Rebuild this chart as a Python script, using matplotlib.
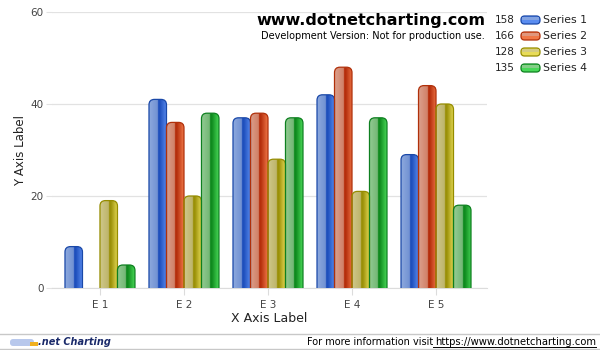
import numpy as np
import matplotlib
matplotlib.use("Agg")
import matplotlib.pyplot as plt
from matplotlib.patches import FancyBboxPatch
from matplotlib.colors import to_rgb
from matplotlib.lines import Line2D

categories = ["E 1", "E 2", "E 3", "E 4", "E 5"]
series_names = ["Series 1", "Series 2", "Series 3", "Series 4"]
s1 = [9, 41, 37, 42, 29]
s2 = [0, 36, 38, 48, 44]
s3 = [19, 20, 28, 21, 40]
s4 = [5, 38, 37, 37, 18]
series_values = [s1, s2, s3, s4]
y_ticks = [0, 20, 40, 60]

# colour stops per series: edge, light, light2, dark, bright
palette = [
    ("#1a48a8", "#8eaade", "#7090d2", "#1e4fbc", "#5a8cf0"),
    ("#b0300a", "#dca08c", "#d07f66", "#b52e0c", "#f07848"),
    ("#958c00", "#cfc88c", "#bdb46a", "#9a9008", "#e8dc58"),
    ("#0e8020", "#94cc94", "#72b674", "#0f8a1e", "#48d858"),
]

def gradient(light1, light2, dark, bright, n=60):
    c_l1, c_l2, c_d, c_b = [np.array(to_rgb(c)) for c in (light1, light2, dark, bright)]
    row = []
    for i in range(n):
        t = (i + 0.5) / n
        if t < 0.5:
            f = t / 0.5
            c = c_l1 * (1 - f) + c_l2 * f
        elif t < 0.6:
            c = c_d
        else:
            f = (t - 0.6) / 0.4
            c = c_d * (1 - f) + c_b * f
        row.append(c)
    return np.array([row])

fig = plt.figure(figsize=(6, 3.5), dpi=100)
ax = fig.add_axes([52 / 600, 1 - 288 / 350, 435 / 600, 276 / 350])

xlim = (-0.571, 4.607)
ylim = (0, 60)
px_per_x = 435 / (xlim[1] - xlim[0])
px_per_y = 276 / (ylim[1] - ylim[0])
aspect = px_per_x / px_per_y

group_w = 0.833
bar_w = group_w / len(series_values)
x = np.arange(len(categories))

for si, vals in enumerate(series_values):
    edge, l1, l2, dk, br = palette[si]
    grad = gradient(l1, l2, dk, br)
    for ci, v in enumerate(vals):
        if v <= 0:
            continue
        x0 = x[ci] - group_w / 2 + si * bar_w
        im = ax.imshow(grad, extent=[x0, x0 + bar_w, 0, v], aspect="auto",
                       zorder=3, interpolation="bilinear")
        r = 0.065
        patch = FancyBboxPatch((x0, -3), bar_w, v + 3,
                               boxstyle=f"round,pad=0,rounding_size={r}",
                               mutation_aspect=aspect,
                               facecolor="none", edgecolor=edge, lw=0.9, zorder=4)
        ax.add_patch(patch)
        im.set_clip_path(patch)

ax.set_xlim(*xlim)
ax.set_ylim(*ylim)
ax.set_xticks(x)
ax.set_xticklabels(categories)
ax.set_yticks(y_ticks)
ax.grid(axis="y", color="#e2e2e2", lw=0.9, zorder=0)
ax.set_axisbelow(True)
for sp in ["top", "right", "left"]:
    ax.spines[sp].set_visible(False)
ax.spines["bottom"].set_color("#dcdcdc")
ax.tick_params(axis="y", length=4, color="#e2e2e2", labelsize=7.5, labelcolor="#444444", pad=2)
ax.tick_params(axis="x", length=5, color="#dcdcdc", labelsize=7.5, labelcolor="#444444", pad=4)
ax.set_ylabel("Y Axis Label", fontsize=8.5, color="#222222")
ax.yaxis.set_label_coords(-0.058, 0.5)
ax.set_xlabel("X Axis Label", fontsize=9, color="#222222", labelpad=1)

# title texts
fig.text(485 / 600, 1 - 21 / 350, "www.dotnetcharting.com", ha="right", va="center",
         fontsize=11.5, fontweight="bold", color="black")
fig.text(485 / 600, 1 - 36 / 350, "Development Version: Not for production use.",
         ha="right", va="center", fontsize=7, color="black")

# legend
totals = [sum(v) for v in series_values]
leg_y = [20, 36, 52, 68]
for si in range(len(series_values)):
    edge, l1, l2, dk, br = palette[si]
    yy = 1 - leg_y[si] / 350
    fig.text(515 / 600, yy, str(totals[si]), ha="right", va="center", fontsize=7.5, color="#222222")
    sw = FancyBboxPatch((521 / 600, yy - 4 / 350), 19 / 600, 8 / 350,
                        boxstyle="round,pad=0,rounding_size=0.006",
                        mutation_aspect=600 / 350,
                        transform=fig.transFigure, facecolor=br, edgecolor=edge, lw=0.9)
    fig.patches.append(sw)
    sw2 = FancyBboxPatch((522 / 600, yy + 0 / 350), 17 / 600, 3 / 350,
                         boxstyle="square,pad=0",
                         transform=fig.transFigure, facecolor=l1, edgecolor="none", alpha=0.8)
    fig.patches.append(sw2)
    fig.text(543 / 600, yy, series_names[si], ha="left", va="center", fontsize=7.8, color="#222222")

# footer
fig.add_artist(Line2D([0, 1], [1 - 334 / 350] * 2, transform=fig.transFigure, color="#c8c8c8", lw=1))
fig.add_artist(Line2D([0, 1], [1 - 349 / 350] * 2, transform=fig.transFigure, color="#c8c8c8", lw=1))
fig.text(307 / 600, 1 - 342 / 350, "For more information visit", ha="left", va="center",
         fontsize=7, color="black")
fig.text(596 / 600, 1 - 342 / 350, "https://www.dotnetcharting.com", ha="right", va="center",
         fontsize=7.2, color="black")
fig.add_artist(Line2D([433 / 600, 596 / 600], [1 - 347 / 350] * 2, transform=fig.transFigure,
                      color="black", lw=0.7))
fig.text(38 / 600, 1 - 342 / 350, ".net Charting", ha="left", va="center",
         fontsize=7, color="#1a2a6a", fontweight="bold", style="italic")
logo = FancyBboxPatch((10 / 600, 1 - 346 / 350), 24 / 600, 7 / 350,
                      boxstyle="round,pad=0,rounding_size=0.005", mutation_aspect=600 / 350,
                      transform=fig.transFigure, facecolor="#b8c8ec", edgecolor="none")
fig.patches.append(logo)
fig.patches.append(FancyBboxPatch((30 / 600, 1 - 346 / 350), 8 / 600, 4 / 350,
                                  boxstyle="square,pad=0", transform=fig.transFigure,
                                  facecolor="#f0b020", edgecolor="none"))

fig.savefig("out.png", dpi=100)
